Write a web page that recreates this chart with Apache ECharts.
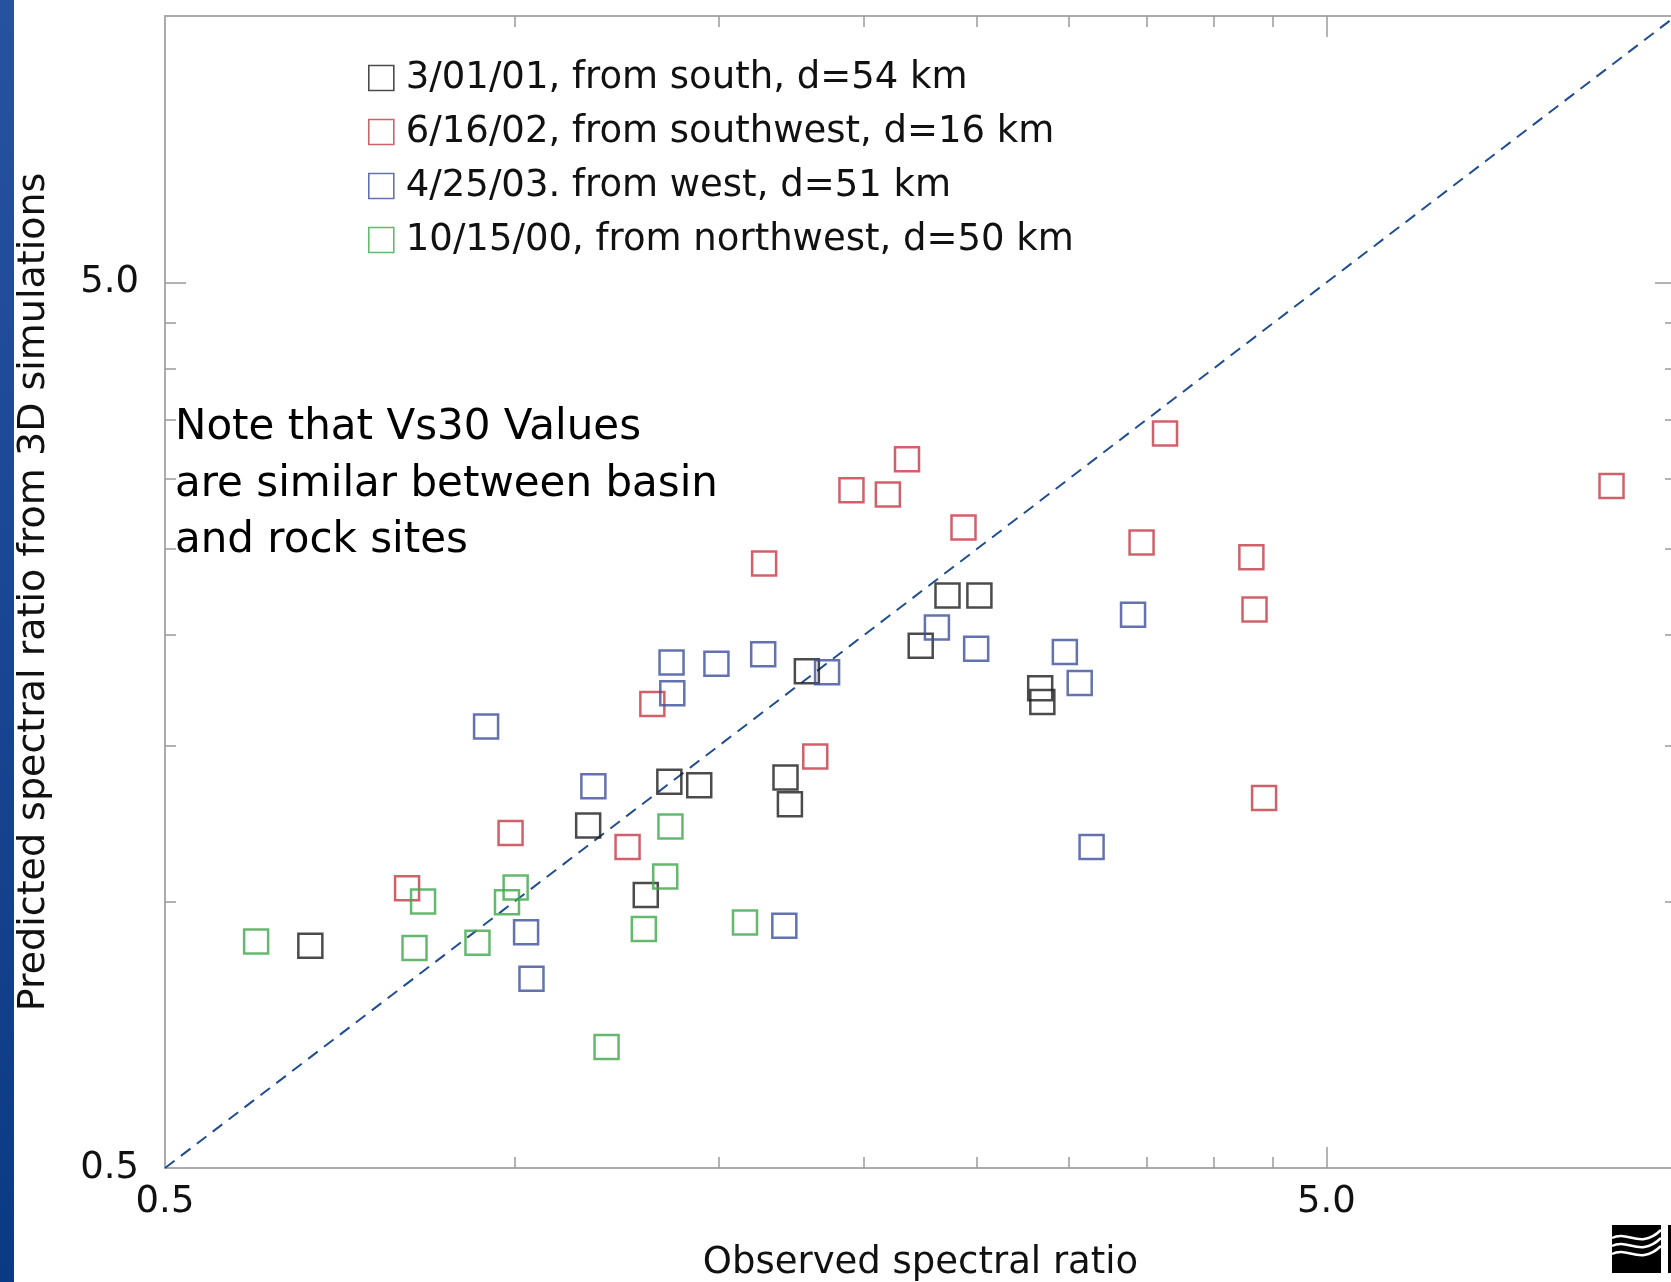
<!DOCTYPE html>
<html>
<head>
<meta charset="utf-8">
<style>
  html, body { margin: 0; padding: 0; background: #ffffff; }
  #chart { width: 1671px; height: 1282px; }
</style>
<script src="https://cdn.jsdelivr.net/npm/echarts@6/dist/echarts.min.js"></script>
</head>
<body>
<div id="chart"></div>
<script>
// Axis extents (log-log, both axes)
const xRange = [0.5, 10];
const yRange = [0.5, 10];

// Tick positions and labelled values
const minorTicks = [1.0, 1.5, 2.0, 2.5, 3.0, 3.5, 4.0, 4.5];
const majorTicks = [5.0];
const tickLabels = [0.5, 5.0];

// Events
const eventNames = [
  '3/01/01, from south, d=54 km',
  '6/16/02, from southwest, d=16 km',
  '4/25/03. from west, d=51 km',
  '10/15/00, from northwest, d=50 km'
];
const eventColors = ['#1e1e1e', '#c43a45', '#3d4f9c', '#3ea84b'];

// [observed, predicted] spectral ratios per site
const south010301 = [
  [0.667, 0.891], [1.157, 1.218], [1.297, 1.017], [1.359, 1.365], [1.442, 1.353],
  [1.711, 1.380], [1.726, 1.288], [1.785, 1.820], [2.237, 1.945], [2.359, 2.216],
  [2.513, 2.216], [2.835, 1.741], [2.847, 1.680]
];
const southwest061602 = [
  [0.808, 1.035], [0.992, 1.195], [1.251, 1.152], [1.314, 1.671], [1.640, 2.408],
  [1.815, 1.458], [1.950, 2.914], [2.096, 2.882], [2.177, 3.158], [2.435, 2.645],
  [3.466, 2.544], [3.631, 3.376], [4.309, 2.448], [4.336, 2.137], [4.419, 1.309],
  [8.800, 2.946]
];
const west042503 = [
  [0.945, 1.576], [1.023, 0.923], [1.034, 0.818], [1.169, 1.349], [1.365, 1.861],
  [1.367, 1.718], [1.492, 1.856], [1.637, 1.902], [1.707, 0.939], [1.858, 1.815],
  [2.310, 2.039], [2.497, 1.929], [2.977, 1.913], [3.066, 1.765], [3.139, 1.152],
  [3.408, 2.108]
];
const northwest101500 = [
  [0.599, 0.901], [0.820, 0.886], [0.834, 1.000], [0.929, 0.898], [0.985, 0.998],
  [1.002, 1.037], [1.200, 0.685], [1.292, 0.931], [1.348, 1.067], [1.362, 1.215],
  [1.579, 0.947]
];
const eventData = [south010301, southwest061602, west042503, northwest101500];

// One-to-one reference line
const oneToOne = [[0.5, 0.5], [10, 10]];

const FONT = '"DejaVu Sans", "Liberation Sans", Arial, sans-serif';

function logAxis(kind, position, ticks, tickLen, showLine, labels, name) {
  const range = kind === 'x' ? xRange : yRange;
  const axis = {
    type: 'log',
    logBase: 10,
    min: range[0],
    max: range[1],
    position: position,
    gridIndex: 0,
    axisLine: { show: showLine, onZero: false, lineStyle: { color: '#ababab', width: 2 } },
    axisTick: {
      show: true, inside: true, length: tickLen, customValues: ticks,
      lineStyle: { color: '#9a9a9a', width: 1.5 }
    },
    minorTick: { show: false },
    splitLine: { show: false },
    minorSplitLine: { show: false },
    axisLabel: { show: false }
  };
  if (labels) {
    axis.axisLabel = {
      show: true,
      customValues: labels,
      formatter: v => Number(v).toFixed(1),
      color: '#111',
      fontFamily: FONT,
      fontSize: 37,
      margin: kind === 'x' ? 16 : 26
    };
  }
  if (name) {
    axis.name = name;
    axis.nameLocation = 'middle';
    axis.nameGap = kind === 'x' ? 77 : 112;
    axis.nameTextStyle = { color: '#111', fontFamily: FONT, fontSize: kind === 'x' ? 37 : 38 };
  }
  return axis;
}

const chart = echarts.init(document.getElementById('chart'), null, { renderer: 'canvas' });

const scatterSeries = eventData.map((pts, i) => ({
  name: eventNames[i],
  type: 'scatter',
  xAxisIndex: 0,
  yAxisIndex: 0,
  data: pts,
  symbol: 'rect',
  symbolSize: 24,
  itemStyle: { color: 'rgba(0,0,0,0)', borderColor: eventColors[i], borderWidth: 2.5 },
  emphasis: { disabled: true },
  z: 3
}));

chart.setOption({
  animation: false,
  backgroundColor: '#ffffff',
  grid: {
    left: 165, top: 16, width: 1511, height: 1152,
    containLabel: false, outerBoundsMode: 'none'
  },
  xAxis: [
    logAxis('x', 'bottom', minorTicks, 11, true, tickLabels, 'Observed spectral ratio'),
    logAxis('x', 'bottom', majorTicks, 21, false),
    logAxis('x', 'top', minorTicks, 11, true),
    logAxis('x', 'top', majorTicks, 21, false)
  ],
  yAxis: [
    logAxis('y', 'left', minorTicks, 11, true, tickLabels, 'Predicted spectral ratio from 3D simulations'),
    logAxis('y', 'left', majorTicks, 21, false),
    logAxis('y', 'right', minorTicks, 11, true),
    logAxis('y', 'right', majorTicks, 21, false)
  ],
  legend: {
    orient: 'vertical',
    left: 368,
    top: 58,
    padding: 0,
    itemGap: 14,
    itemWidth: 25,
    itemHeight: 25,
    selectedMode: false,
    icon: 'rect',
    textStyle: { color: '#111', fontFamily: FONT, fontSize: 37, lineHeight: 40, padding: [0, 0, 0, 7] },
    data: eventNames.map((n, i) => ({
      name: n,
      itemStyle: { color: 'rgba(0,0,0,0)', borderColor: eventColors[i], borderWidth: 1.6 }
    }))
  },
  series: [
    {
      name: 'one-to-one',
      type: 'line',
      xAxisIndex: 0,
      yAxisIndex: 0,
      data: oneToOne,
      symbol: 'none',
      silent: true,
      lineStyle: { color: '#1f4d8e', width: 2, type: [12, 8] },
      z: 2
    }
  ].concat(scatterSeries),
  graphic: [
    {
      type: 'rect',
      shape: { x: 0, y: 0, width: 14, height: 1282 },
      style: {
        fill: new echarts.graphic.LinearGradient(0, 0, 0, 1, [
          { offset: 0, color: '#2752a0' },
          { offset: 1, color: '#0b3a84' }
        ])
      },
      silent: true
    },
    {
      type: 'text',
      x: 175,
      y: 400,
      style: {
        text: 'Note that Vs30 Values\nare similar between basin\nand rock sites',
        font: '42px "DejaVu Sans", Arial, sans-serif',
        fill: '#000',
        lineHeight: 56.5,
        verticalAlign: 'top'
      },
      silent: true
    },
    {
      type: 'group',
      silent: true,
      children: [
        { type: 'rect', shape: { x: 1612, y: 1225, width: 49, height: 48 }, style: { fill: '#000' } },
        { type: 'rect', shape: { x: 1668, y: 1225, width: 4, height: 48 }, style: { fill: '#000' } },
        { type: 'bezierCurve', shape: { x1: 1612, y1: 1238, cpx1: 1628, cpy1: 1230, cpx2: 1640, cpy2: 1250, x2: 1661, y2: 1230 }, style: { stroke: '#fff', lineWidth: 2.5, fill: null } },
        { type: 'bezierCurve', shape: { x1: 1612, y1: 1246, cpx1: 1628, cpy1: 1238, cpx2: 1640, cpy2: 1258, x2: 1661, y2: 1238 }, style: { stroke: '#fff', lineWidth: 2.5, fill: null } },
        { type: 'bezierCurve', shape: { x1: 1612, y1: 1254, cpx1: 1628, cpy1: 1246, cpx2: 1640, cpy2: 1266, x2: 1661, y2: 1246 }, style: { stroke: '#fff', lineWidth: 2.5, fill: null } }
      ]
    }
  ]
});
</script>
</body>
</html>
